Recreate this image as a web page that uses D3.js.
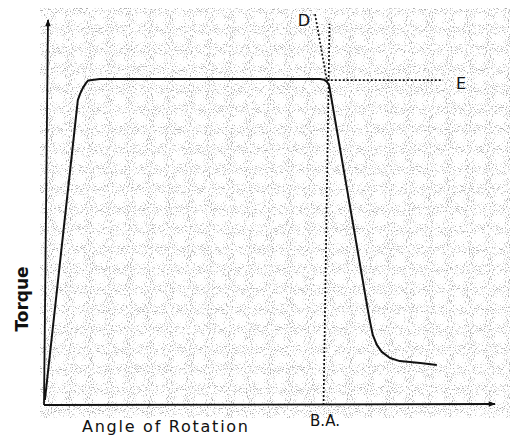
<!DOCTYPE html>
<html>
<head>
<meta charset="utf-8">
<script src="https://cdn.jsdelivr.net/npm/d3@7"></script>
<style>
  body { margin: 0; background: #fff; }
  text { font-family: "DejaVu Sans", sans-serif; fill: #111; }
</style>
</head>
<body>
<div id="wrapper"></div>
<script>
// curve: angle of rotation vs torque (arbitrary units 0-100)
const angle = [0.2, 7.5, 8.0, 8.6, 9.3, 9.8, 11.1, 12.4, 40, 61.2, 62.1, 62.7, 63.2, 63.6,
  71.8, 72.3, 72.9, 73.8, 74.9, 76.7, 78.9, 83.4, 87.1]
const torque = [1.3, 79.2, 80.8, 82.3, 83.6, 84.3, 84.5, 84.7, 84.7, 84.7, 84.5, 84.0, 83.1, 80.5,
  24.7, 21.6, 18.2, 15.6, 13.8, 12.2, 11.4, 10.9, 10.4]

// construction lines
const breakAngle = 62.2
const tangentD = [[60.1, 101.5], [62.7, 84.4]]
const plateauE = [[62.7, 84.4], [88.5, 84.4]]

const axisLabels = { x: "Angle of Rotation", y: "Torque" }
const markLabels = ["D", "E", "B.A."]

function draw() {
  const data = angle.map((a, i) => ({ a, t: torque[i] }))

  const dimensions = { width: 516, height: 436 }

  const svg = d3.select("#wrapper")
    .append("svg")
    .attr("width", dimensions.width)
    .attr("height", dimensions.height)

  const defs = svg.append("defs")

  defs.append("marker")
    .attr("id", "arrow")
    .attr("viewBox", "0 0 10 10")
    .attr("refX", 9).attr("refY", 5)
    .attr("markerWidth", 9).attr("markerHeight", 7)
    .attr("markerUnits", "userSpaceOnUse")
    .attr("orient", "auto")
    .append("path")
    .attr("d", "M0,1 L10,5 L0,9 Z")
    .attr("fill", "#111")

  // speckled paper texture
  const filt = defs.append("filter").attr("id", "speckle")
    .attr("x", 0).attr("y", 0).attr("width", 1).attr("height", 1)
  filt.append("feTurbulence")
    .attr("type", "fractalNoise").attr("baseFrequency", 0.95)
    .attr("numOctaves", 1).attr("seed", 3).attr("result", "noise")
  filt.append("feColorMatrix")
    .attr("in", "noise").attr("type", "matrix")
    .attr("values", "0 0 0 0 0.4  0 0 0 0 0.4  0 0 0 0 0.4  7 0 0 0 -4.0")

  const xScale = d3.scaleLinear().domain([0, 100]).range([44, 495])
  const yScale = d3.scaleLinear().domain([0, 100]).range([405, 20])

  svg.append("path")
    .attr("d", "M40,12 L300,8 L380,30 L395,55 L505,55 L510,200 L500,415 L40,418 Z")
    .attr("fill", "#bbb")
    .attr("filter", "url(#speckle)")

  // axes
  svg.append("line")
    .attr("x1", xScale(0)).attr("y1", yScale(0))
    .attr("x2", xScale(0) + 4).attr("y2", yScale(0) - 385)
    .attr("stroke", "#111").attr("stroke-width", 1.8)
    .attr("marker-end", "url(#arrow)")

  svg.append("line")
    .attr("x1", xScale(0)).attr("y1", yScale(0))
    .attr("x2", xScale(100)).attr("y2", yScale(0) - 1)
    .attr("stroke", "#111").attr("stroke-width", 1.8)
    .attr("marker-end", "url(#arrow)")

  // dotted construction lines
  const dotted = g => g.attr("fill", "none").attr("stroke", "#111")
    .attr("stroke-width", 1.7).attr("stroke-dasharray", "2,2")

  svg.append("line")
    .attr("x1", xScale(breakAngle) - 1).attr("y1", yScale(0))
    .attr("x2", xScale(breakAngle) + 5).attr("y2", yScale(99))
    .call(dotted)

  const line = d3.line().x(d => xScale(d[0])).y(d => yScale(d[1]))
  svg.append("path").attr("d", line(tangentD)).call(dotted)
  svg.append("path").attr("d", line(plateauE)).call(dotted)

  // torque curve
  const curve = d3.line()
    .x(d => xScale(d.a))
    .y(d => yScale(d.t))

  svg.append("path")
    .attr("d", curve(data))
    .attr("fill", "none")
    .attr("stroke", "#111")
    .attr("stroke-width", 2)
    .attr("stroke-linejoin", "round")

  // labels
  svg.append("text")
    .attr("x", 82).attr("y", 432)
    .attr("textLength", 166)
    .style("font-size", "16px")
    .text(axisLabels.x)

  svg.append("text")
    .attr("transform", "translate(28,299) rotate(-90)")
    .attr("text-anchor", "middle")
    .style("font-size", "17px")
    .style("font-weight", "bold")
    .text(axisLabels.y)

  svg.append("text").attr("x", 304).attr("y", 26)
    .attr("text-anchor", "middle").style("font-size", "16px").text(markLabels[0])
  svg.append("text").attr("x", 461).attr("y", 89)
    .attr("text-anchor", "middle").style("font-size", "16px").text(markLabels[1])
  svg.append("text").attr("x", 325).attr("y", 426)
    .attr("text-anchor", "middle").style("font-size", "15px").text(markLabels[2])
}
draw()
</script>
</body>
</html>
